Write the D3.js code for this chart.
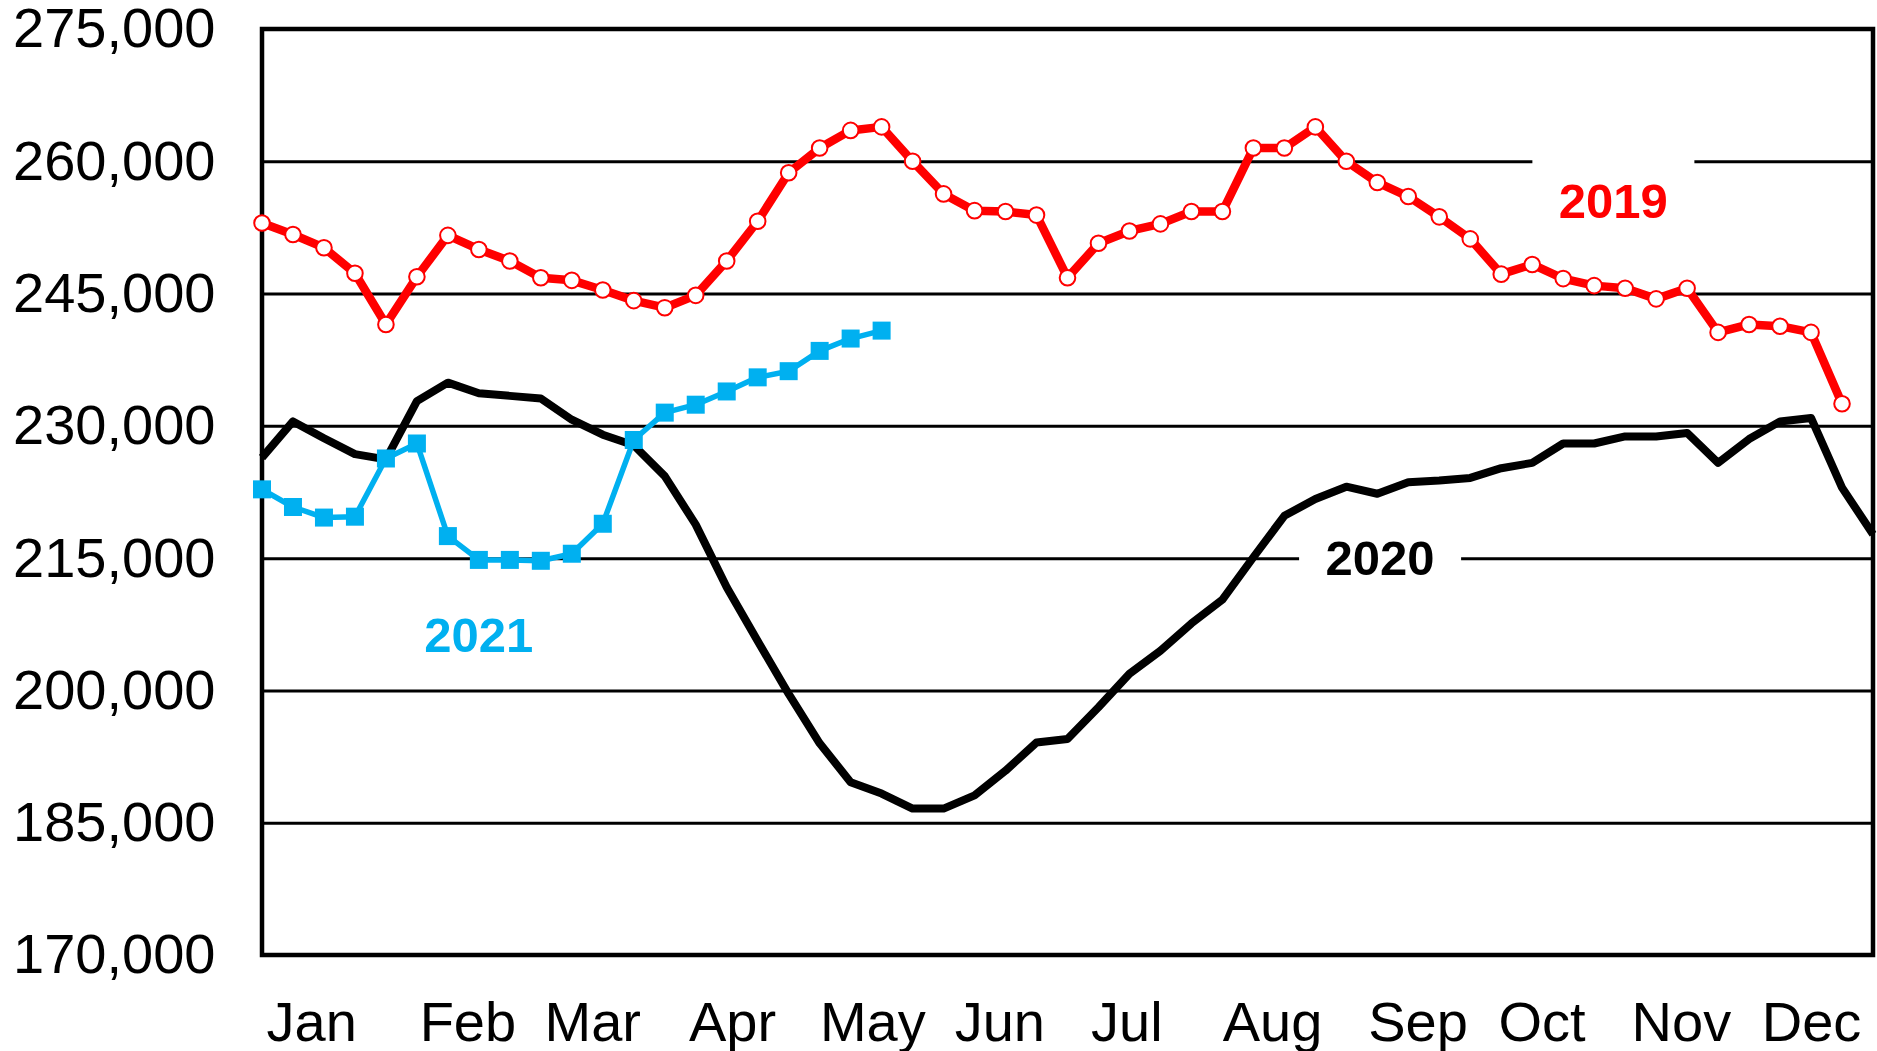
<!DOCTYPE html>
<html>
<head>
<meta charset="utf-8">
<script src="https://cdn.jsdelivr.net/npm/d3@7"></script>
<style>
  html, body { margin: 0; padding: 0; background: #fff; }
  svg { display: block; }
  text { font-family: "Liberation Sans", Arial, sans-serif; }
</style>
</head>
<body>
<script>
// Month labels and the week (0-52) each one sits under
const months = ["Jan", "Feb", "Mar", "Apr", "May", "Jun", "Jul", "Aug", "Sep", "Oct", "Nov", "Dec"];
const monthWeeks = [1.59, 6.63, 10.66, 15.17, 19.7, 23.8, 27.9, 32.6, 37.3, 41.3, 45.8, 50.0];

// Y axis ticks
const yTicks = [170000, 185000, 200000, 215000, 230000, 245000, 260000, 275000];

// Weekly values, one per week starting at week 0
const values2019 = [253000, 251700, 250200, 247300, 241500, 246900, 251600, 250000, 248700, 246800,
                    246500, 245400, 244200, 243400, 244800, 248700, 253200, 258700, 261500, 263500,
                    263900, 260000, 256300, 254400, 254300, 253900, 246800, 250700, 252100, 252900,
                    254300, 254300, 261500, 261500, 263900, 260000, 257600, 256000, 253700, 251200,
                    247200, 248300, 246700, 245900, 245600, 244400, 245600, 240600, 241500, 241300,
                    240600, 232500];
const values2020 = [226400, 230500, 228600, 226800, 226200, 232800, 234900, 233700, 233400, 233100,
                    230700, 229000, 227800, 224300, 218800, 211700, 205600, 199600, 194000, 189600,
                    188300, 186600, 186600, 188100, 190900, 194100, 194500, 198100, 201900, 204500,
                    207600, 210300, 215100, 219800, 221700, 223100, 222300, 223600, 223800, 224100,
                    225200, 225800, 228000, 228000, 228800, 228800, 229200, 225800, 228500, 230500,
                    230900, 223000, 217700];
const values2021 = [222800, 220800, 219600, 219700, 226300, 228000, 217500, 214800, 214800, 214700,
                    215500, 218900, 228400, 231500, 232400, 233900, 235500, 236200, 238500, 239900,
                    240800];

// Series label anchors (week, value of the text baseline)
const seriesLabels = [
  {name: "2019", week: 43.62, value: 253570, color: "#ff0000"},
  {name: "2020", week: 36.09, value: 213090, color: "#000000"},
  {name: "2021", week: 7.0,   value: 204390, color: "#00b0f0"}
];

const width = 1877, height = 1051;
const plot = {left: 262, right: 1873, top: 29, bottom: 955};

const svg = d3.select("body").append("svg")
    .attr("width", width)
    .attr("height", height);

svg.append("rect")
    .attr("width", width)
    .attr("height", height)
    .attr("fill", "#fff");

let x = d3.scaleLinear().domain([0, 52]).range([plot.left, plot.right]);
let y = d3.scaleLinear().domain([170000, 275000]).range([plot.bottom, plot.top]);

// Gridlines
svg.append("g")
    .attr("class", "grid")
    .attr("transform", "translate(" + plot.left + ",0)")
    .call(d3.axisLeft(y).tickValues(yTicks).tickSize(-(plot.right - plot.left)).tickFormat(""))
    .call(g => g.select(".domain").remove())
    .call(g => g.selectAll("line").attr("stroke", "#000").attr("stroke-width", 3));

// Y axis labels
svg.append("g")
    .attr("class", "axis axis--y")
    .attr("transform", "translate(" + plot.left + ",0)")
    .call(d3.axisLeft(y).tickValues(yTicks).tickSize(0).tickPadding(46.5).tickFormat(d3.format(",")))
    .call(g => g.select(".domain").remove())
    .call(g => g.selectAll("text")
        .attr("font-size", 56)
        .attr("fill", "#000")
        .attr("font-family", "Liberation Sans, Arial, sans-serif"));

// X axis labels
svg.append("g")
    .attr("class", "axis axis--x")
    .attr("transform", "translate(0," + plot.bottom + ")")
    .call(d3.axisBottom(x).tickValues(monthWeeks).tickSize(0).tickPadding(46)
        .tickFormat((d, i) => months[i]))
    .call(g => g.select(".domain").remove())
    .call(g => g.selectAll("text")
        .attr("font-size", 56)
        .attr("fill", "#000")
        .attr("font-family", "Liberation Sans, Arial, sans-serif"));

// Plot frame
svg.append("rect")
    .attr("x", plot.left)
    .attr("y", plot.top)
    .attr("width", plot.right - plot.left)
    .attr("height", plot.bottom - plot.top)
    .attr("fill", "none")
    .attr("stroke", "#000")
    .attr("stroke-width", 4.5);

// Series labels with white boxes that cut the gridlines
seriesLabels.forEach(function(l) {
  let cx = x(l.week), by = y(l.value);
  svg.append("rect")
      .attr("x", cx - 81)
      .attr("y", by - 62)
      .attr("width", 162)
      .attr("height", 74)
      .attr("fill", "#fff");
  svg.append("text")
      .attr("x", cx)
      .attr("y", by)
      .attr("text-anchor", "middle")
      .attr("font-size", 49)
      .attr("font-weight", "bold")
      .attr("fill", l.color)
      .text(l.name);
});

let line = d3.line()
    .x((d, i) => x(i))
    .y(d => y(d));

// 2020 - plain black line
svg.append("path")
    .datum(values2020)
    .attr("fill", "none")
    .attr("stroke", "#000")
    .attr("stroke-width", 8)
    .attr("stroke-linejoin", "round")
    .attr("d", line);

// 2021 - blue line with square markers
svg.append("path")
    .datum(values2021)
    .attr("fill", "none")
    .attr("stroke", "#00b0f0")
    .attr("stroke-width", 5.5)
    .attr("stroke-linejoin", "round")
    .attr("d", line);

svg.append("g").selectAll("rect")
    .data(values2021)
  .enter().append("rect")
    .attr("x", (d, i) => x(i) - 9)
    .attr("y", d => y(d) - 9)
    .attr("width", 18)
    .attr("height", 18)
    .attr("fill", "#00b0f0");

// 2019 - red line with open circle markers
svg.append("path")
    .datum(values2019)
    .attr("fill", "none")
    .attr("stroke", "#ff0000")
    .attr("stroke-width", 8.5)
    .attr("stroke-linejoin", "round")
    .attr("d", line);

svg.append("g").selectAll("circle")
    .data(values2019)
  .enter().append("circle")
    .attr("cx", (d, i) => x(i))
    .attr("cy", d => y(d))
    .attr("r", 7.8)
    .attr("fill", "#fff")
    .attr("stroke", "#ff0000")
    .attr("stroke-width", 2);
</script>
</body>
</html>
